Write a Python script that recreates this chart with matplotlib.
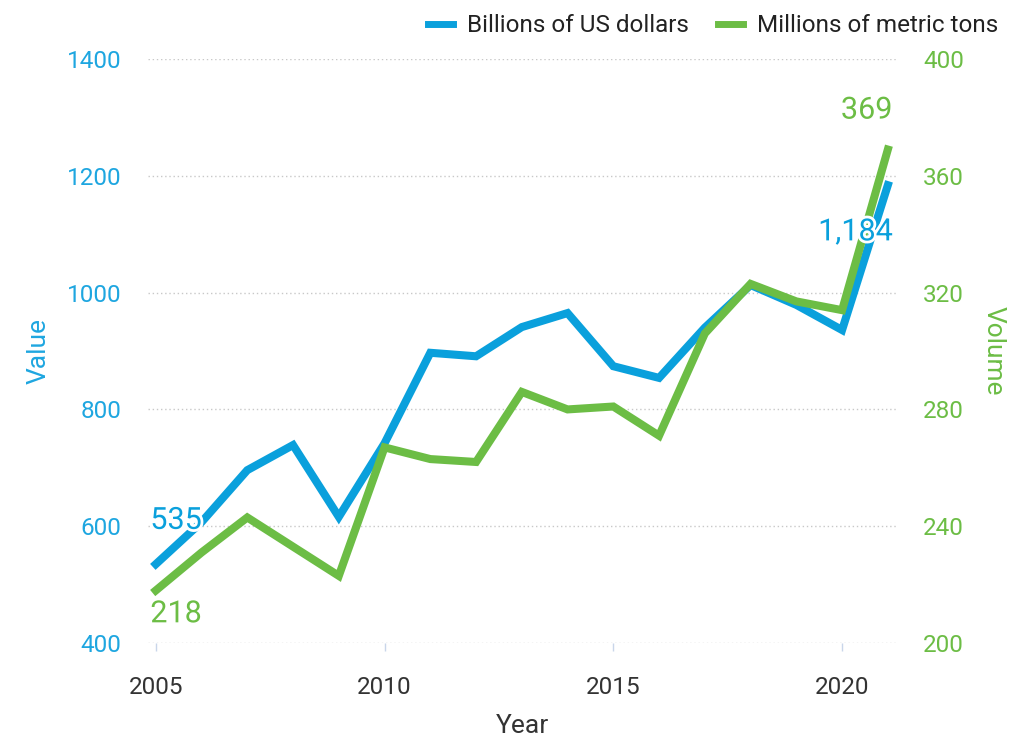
import matplotlib.pyplot as plt
import matplotlib.patheffects as pe
from matplotlib.lines import Line2D

plt.rcParams['font.family'] = ['Roboto', 'DejaVu Sans']

years = list(range(2005, 2022))
value_busd = [535, 607, 696, 739, 616, 742, 897, 891, 941, 965, 874, 854,
              940, 1013, 979, 936, 1184]
volume_mt = [218, 231, 243, 233, 223, 267, 263, 262, 286, 280, 281, 271,
             306, 323, 317, 314, 369]
left_ticks = [400, 600, 800, 1000, 1200, 1400]
right_ticks = [200, 240, 280, 320, 360, 400]
x_ticks = [2005, 2010, 2015, 2020]

BLUE = '#0aa0dc'
GREEN = '#6cbd45'
TICK_BLUE = '#1ea6e0'


def main():
    fig = plt.figure(figsize=(10.25, 7.38), dpi=100)
    ax1 = fig.add_axes([0.1444, 0.1287, 0.7307, 0.7913])
    ax2 = ax1.twinx()

    ax1.plot(years, value_busd, color=BLUE, lw=5.8, solid_joinstyle='miter')
    ax2.plot(years, volume_mt, color=GREEN, lw=5.8, solid_joinstyle='miter')

    ax1.set_xlim(2004.83, 2021.2)
    ax1.set_ylim(400, 1400)
    ax2.set_ylim(200, 400)
    ax1.set_yticks(left_ticks)
    ax2.set_yticks(right_ticks)
    ax1.set_xticks(x_ticks)

    for ax in (ax1, ax2):
        for s in ax.spines.values():
            s.set_visible(False)

    ax1.grid(axis='y', color='#c8c8c8', linestyle=(0, (1, 2)), lw=1)
    ax1.set_axisbelow(True)

    ax1.tick_params(axis='y', length=0, pad=19, labelsize=17.5, labelcolor=TICK_BLUE)
    ax2.tick_params(axis='y', length=0, pad=19, labelsize=17.5, labelcolor=GREEN)
    ax1.tick_params(axis='x', length=6, width=1, color='#c9d6ea', pad=18,
                    labelsize=17.5, labelcolor='#333333')

    ax1.set_xlabel('Year', fontsize=19, color='#333333', labelpad=10.5)
    ax1.set_ylabel('Value', fontsize=19, color=TICK_BLUE, labelpad=12)
    ax2.set_ylabel('Volume', fontsize=19, color=GREEN, rotation=270,
                   labelpad=30)

    halo = [pe.withStroke(linewidth=4, foreground='white')]
    ax2.text(years[0] - 0.12, value_busd[0] + 75, f'{value_busd[0]:,}', transform=ax1.transData,
             color=BLUE, fontsize=22, ha='left', va='center', path_effects=halo)
    ax2.text(years[0] - 0.12, volume_mt[0] - 8, f'{volume_mt[0]:,}', color=GREEN,
             fontsize=22, ha='left', va='center', path_effects=halo)
    ax2.text(years[-1] + 0.1, value_busd[-1] - 80, f'{value_busd[-1]:,}',
             transform=ax1.transData, color=BLUE, fontsize=22, ha='right',
             va='center', path_effects=halo)
    ax2.text(years[-1] + 0.1, volume_mt[-1] + 13.5, f'{volume_mt[-1]:,}', color=GREEN,
             fontsize=22, ha='right', va='center', path_effects=halo)

    handles = [Line2D([], [], color=BLUE, lw=5),
               Line2D([], [], color=GREEN, lw=5)]
    fig.legend(handles, ['Billions of US dollars', 'Millions of metric tons'],
               loc='upper right', bbox_to_anchor=(0.995, 1.01), ncol=2, frameon=False,
               fontsize=17.5, handlelength=1.05, handletextpad=0.55, columnspacing=1.2,
               labelcolor='#222222')

    fig.savefig('out.png', dpi=100)


if __name__ == '__main__':
    main()
